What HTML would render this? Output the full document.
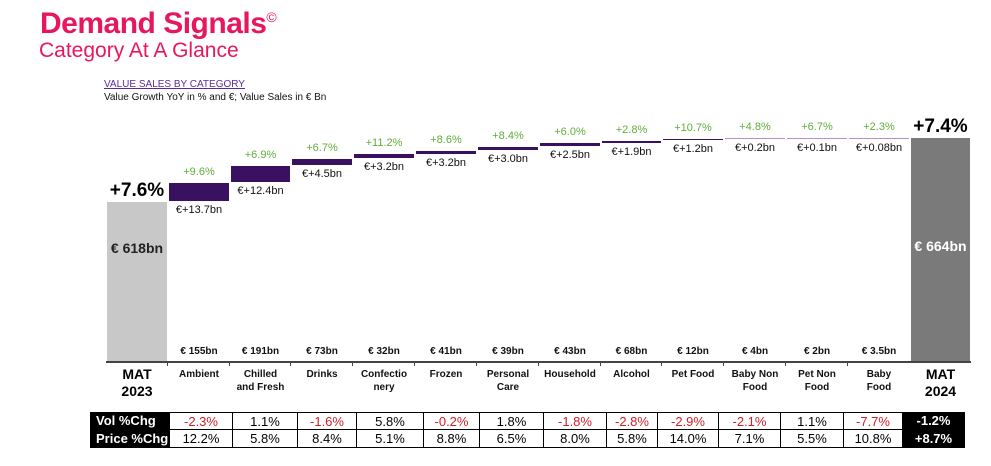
<!DOCTYPE html>
<html><head><meta charset="utf-8"><style>
body{margin:0;background:#fff;width:991px;height:466px;overflow:hidden;position:relative;font-family:"Liberation Sans",sans-serif}
.a{position:absolute}
.t{position:absolute;text-align:center;white-space:nowrap}
.g{color:#5fae3a;font-size:11px}
.d{font-size:11px;color:#111}
.c{font-size:10px;font-weight:bold;color:#111;line-height:13px}
.cell{position:absolute;height:17px;line-height:17px;text-align:center;font-size:13px;border:1.5px solid #000;box-sizing:border-box;background:#fff}
.r{color:#d0202a}
</style></head><body>
<div class="a" style="left:40px;top:7px;font-size:30px;font-weight:bold;color:#e8175d;letter-spacing:-0.5px">Demand Signals<sup style="font-size:14px;font-weight:normal">©</sup></div>
<div class="a" style="left:39px;top:39px;font-size:21px;color:#e8175d">Category At A Glance</div>
<div class="a" style="left:104px;top:79px;font-size:10px;color:#5b2a9b;text-decoration:underline">VALUE SALES BY CATEGORY</div>
<div class="a" style="left:104px;top:92px;font-size:10px;color:#111">Value Growth YoY in % and €; Value Sales in € Bn</div>

<div class="a" style="left:107px;top:202px;width:60px;height:160px;background:#c8c8c8"></div>
<div class="t" style="left:107px;width:60px;top:240px;font-size:14px;font-weight:bold;color:#222">€ 618bn</div>
<div class="t" style="left:100px;width:74px;top:180px;font-size:19px;font-weight:bold">+7.6%</div>
<div class="a" style="left:911px;top:138px;width:59px;height:224px;background:#7a7a7a"></div>
<div class="t" style="left:906px;width:69px;top:238px;font-size:14px;font-weight:bold;color:#fff">€ 664bn</div>
<div class="t" style="left:905px;width:71px;top:116px;font-size:19px;font-weight:bold">+7.4%</div>
<div class="a" style="left:106px;top:361px;width:865px;height:2px;background:#444"></div>

<div id="cols"></div>
<script>
const L=[169,231,292,354,416,478,540,602,663,725,787,849,911];
const data=[
["+9.6%","€+13.7bn",183,18,"€ 155bn","Ambient"],
["+6.9%","€+12.4bn",166,16,"€ 191bn","Chilled<br>and Fresh"],
["+6.7%","€+4.5bn",159,6,"€ 73bn","Drinks"],
["+11.2%","€+3.2bn",154,4,"€ 32bn","Confectio<br>nery"],
["+8.6%","€+3.2bn",151,3,"€ 41bn","Frozen"],
["+8.4%","€+3.0bn",147,3,"€ 39bn","Personal<br>Care"],
["+6.0%","€+2.5bn",143,3,"€ 43bn","Household"],
["+2.8%","€+1.9bn",141,2,"€ 68bn","Alcohol"],
["+10.7%","€+1.2bn",139,1,"€ 12bn","Pet Food"],
["+4.8%","€+0.2bn",138,1,"€ 4bn","Baby Non<br>Food"],
["+6.7%","€+0.1bn",138,1,"€ 2bn","Pet Non<br>Food"],
["+2.3%","€+0.08bn",138,1,"€ 3.5bn","Baby<br>Food"]];
let h="";
data.forEach((d,i)=>{const x=L[i],w=L[i+1]-x-2;
const col=i>=9?"#b58fd6":"#3a1060";
h+=`<div class="a" style="left:${x}px;top:${d[2]}px;width:${w}px;height:${d[3]}px;background:${col}"></div>`;
h+=`<div class="t g" style="left:${x}px;width:${w}px;top:${d[2]-17}px">${d[0]}</div>`;
h+=`<div class="t d" style="left:${x}px;width:${w}px;top:${d[2]+d[3]+3}px">${d[1]}</div>`;
h+=`<div class="t c" style="left:${x}px;width:${w}px;top:345px">${d[4]}</div>`;
h+=`<div class="t c" style="left:${x-4}px;width:${w+8}px;top:368px;white-space:normal">${d[5]}</div>`;
h+=`<div class="a" style="left:${x-2}px;top:361px;width:1px;height:5px;background:#444"></div>`;});
h+=`<div class="t" style="left:100px;width:74px;top:366px;font-size:14px;font-weight:bold;line-height:17px">MAT<br>2023</div>`;
h+=`<div class="t" style="left:905px;width:71px;top:366px;font-size:14px;font-weight:bold;line-height:17px">MAT<br>2024</div>`;
const B=[169,232,297,356,423,479,543,606,657,718,780,843,902,965];
const vol=["-2.3%","1.1%","-1.6%","5.8%","-0.2%","1.8%","-1.8%","-2.8%","-2.9%","-2.1%","1.1%","-7.7%"];
const pr=["12.2%","5.8%","8.4%","5.1%","8.8%","6.5%","8.0%","5.8%","14.0%","7.1%","5.5%","10.8%"];
h+=`<div class="a" style="left:90px;top:412px;width:79px;height:36px;background:#000;color:#fff;font-size:13px;font-weight:bold;line-height:18px;padding-left:6px;box-sizing:border-box">Vol %Chg<br>Price %Chg</div>`;
for(let i=0;i<12;i++){const x=B[i],w=B[i+1]-x+1;
h+=`<div class="cell ${vol[i][0]=='-'?'r':''}" style="left:${x}px;top:412px;width:${w}px;height:19px">${vol[i]}</div>`;
h+=`<div class="cell" style="left:${x}px;top:429px;width:${w}px;height:19px">${pr[i]}</div>`;}
h+=`<div class="a" style="left:902px;top:412px;width:63px;height:36px;background:#000;color:#fff;font-size:13px;font-weight:bold;line-height:18px;text-align:center">-1.2%<br>+8.7%</div>`;
document.getElementById("cols").innerHTML=h;
</script>
</body></html>
